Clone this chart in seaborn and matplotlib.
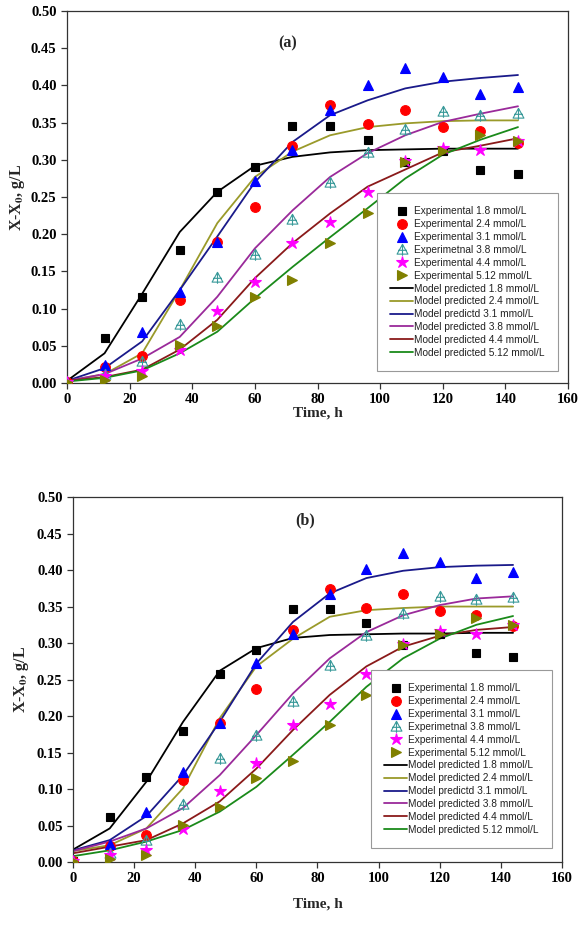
import numpy as np
import matplotlib
matplotlib.use('Agg')
import matplotlib.pyplot as plt
from matplotlib.path import Path
import seaborn as sns

# ── Data ──────────────────────────────────────
TIME = [0, 12, 24, 36, 48, 60, 72, 84, 96, 108, 120, 132, 144]

EXP_18 = [0.002, 0.061, 0.116, 0.179, 0.257, 0.291, 0.346, 0.346, 0.327, 0.297, 0.312, 0.286, 0.281]
EXP_24 = [0.002, 0.022, 0.037, 0.112, 0.190, 0.237, 0.318, 0.374, 0.348, 0.367, 0.344, 0.339, 0.323]
EXP_31 = [0.002, 0.024, 0.068, 0.123, 0.190, 0.272, 0.313, 0.367, 0.401, 0.424, 0.411, 0.389, 0.398]
EXP_38 = [0.002, 0.012, 0.030, 0.079, 0.142, 0.174, 0.221, 0.270, 0.311, 0.341, 0.365, 0.360, 0.363]
EXP_44 = [0.002, 0.009, 0.016, 0.045, 0.097, 0.136, 0.188, 0.216, 0.257, 0.299, 0.316, 0.313, 0.325]
EXP_512 = [0.002, 0.004, 0.009, 0.051, 0.076, 0.115, 0.139, 0.188, 0.229, 0.297, 0.312, 0.334, 0.325]

# panel (a) model
M18_A = [0.003, 0.040, 0.120, 0.203, 0.257, 0.292, 0.304, 0.310, 0.313, 0.314, 0.315, 0.315, 0.315]
M24_A = [0.003, 0.012, 0.040, 0.125, 0.215, 0.277, 0.311, 0.333, 0.344, 0.349, 0.352, 0.353, 0.353]
M31_A = [0.003, 0.020, 0.056, 0.125, 0.197, 0.270, 0.324, 0.360, 0.380, 0.396, 0.405, 0.410, 0.414]
M38_A = [0.003, 0.012, 0.033, 0.062, 0.116, 0.181, 0.232, 0.277, 0.309, 0.333, 0.351, 0.362, 0.372]
M44_A = [0.003, 0.008, 0.018, 0.045, 0.085, 0.141, 0.188, 0.228, 0.264, 0.287, 0.310, 0.319, 0.329]
M512_A = [0.002, 0.007, 0.017, 0.040, 0.069, 0.114, 0.156, 0.196, 0.235, 0.275, 0.307, 0.327, 0.344]

# panel (b) model
M18_B = [0.017, 0.046, 0.110, 0.192, 0.262, 0.293, 0.307, 0.311, 0.312, 0.313, 0.313, 0.314, 0.314]
M24_B = [0.015, 0.023, 0.046, 0.101, 0.197, 0.268, 0.306, 0.336, 0.345, 0.348, 0.350, 0.350, 0.350]
M31_B = [0.016, 0.030, 0.063, 0.119, 0.192, 0.272, 0.329, 0.368, 0.389, 0.399, 0.404, 0.406, 0.407]
M38_B = [0.015, 0.028, 0.046, 0.074, 0.119, 0.174, 0.231, 0.279, 0.315, 0.338, 0.352, 0.361, 0.364]
M44_B = [0.012, 0.021, 0.030, 0.053, 0.083, 0.128, 0.181, 0.229, 0.268, 0.295, 0.310, 0.318, 0.322]
M512_B = [0.008, 0.016, 0.028, 0.044, 0.069, 0.103, 0.147, 0.192, 0.240, 0.279, 0.306, 0.325, 0.337]

EXP_LABELS = ['Experimental 1.8 mmol/L', 'Experimental 2.4 mmol/L',
              'Experimental 3.1 mmol/L', 'Experimetnal 3.8 mmol/L',
              'Experimental 4.4 mmol/L', 'Experimental 5.12 mmol/L']
MOD_LABELS = ['Model predicted 1.8 mmol/L', 'Model predicted 2.4 mmol/L',
              'Model predictd 3.1 mmol/L', 'Model predicted 3.8 mmol/L',
              'Model predicted 4.4 mmol/L', 'Model predicted 5.12 mmol/L']

# ── Styles ────────────────────────────────────
# open triangle with a cross inside (the 3.8 mmol/L marker)
tri_plus = Path(
    [(-1, -0.85), (1, -0.85), (0, 0.95), (-1, -0.85),
     (0, -1.15), (0, 0.95), (-0.8, -0.15), (0.8, -0.15)],
    [Path.MOVETO, Path.LINETO, Path.LINETO, Path.CLOSEPOLY,
     Path.MOVETO, Path.LINETO, Path.MOVETO, Path.LINETO])

EXP_STYLE = [
    dict(marker='s', color='#000000', ms=6.0, filled=True),
    dict(marker='o', color='#ff0000', ms=7.0, filled=True),
    dict(marker='^', color='#0000ff', ms=7.5, filled=True),
    dict(marker=tri_plus, color='#3a9a9a', ms=9.0, filled=False),
    dict(marker='*', color='#ff00ff', ms=9.0, filled=True),
    dict(marker='>', color='#808000', ms=7.5, filled=True),
]
MOD_COLORS = ['#000000', '#9a9a2a', '#1a1a8a', '#9a2a9a', '#8a1a1a', '#1a8a1a']

sns.set_style('ticks')
plt.rcParams['font.family'] = ['Liberation Serif', 'DejaVu Serif']
plt.rcParams['mathtext.fontset'] = 'stix'


def draw_panel(ax, models, tag, tag_xy, leg_anchor, xpad, ypad):
    exps = [EXP_18, EXP_24, EXP_31, EXP_38, EXP_44, EXP_512]
    for vals, st, lab in zip(exps, EXP_STYLE, EXP_LABELS):
        sns.lineplot(x=TIME, y=vals, ax=ax, linestyle='none',
                     marker=st['marker'], markersize=st['ms'],
                     color=st['color'],
                     markerfacecolor=st['color'] if st['filled'] else 'none',
                     markeredgecolor=st['color'],
                     markeredgewidth=0.8, label=lab, zorder=3)
    for vals, col, lab in zip(models, MOD_COLORS, MOD_LABELS):
        sns.lineplot(x=TIME, y=vals, ax=ax, color=col, linewidth=1.3,
                     label=lab, zorder=2)

    ax.set_xlim(0, 160)
    ax.set_ylim(0, 0.5)
    ax.set_xticks(np.arange(0, 161, 20))
    ax.set_yticks(np.arange(0, 0.501, 0.05))
    ax.set_yticklabels([f'{v:.2f}' for v in np.arange(0, 0.501, 0.05)])
    ax.tick_params(direction='out', length=4, width=0.9, colors='#333333',
                   labelcolor='black', labelsize=10.5)
    for lab in ax.get_xticklabels() + ax.get_yticklabels():
        lab.set_fontweight('bold')
    for sp in ax.spines.values():
        sp.set_visible(True)
        sp.set_color('#333333')
        sp.set_linewidth(0.9)

    ax.set_xlabel('Time, h', fontsize=11, fontweight='bold', labelpad=xpad)
    ax.set_ylabel(r'X-X$_{\mathbf{0}}$, g/L', fontsize=11.5,
                  fontweight='bold', labelpad=ypad)
    ax.text(tag_xy[0], tag_xy[1], tag, ha='center', va='center',
            fontsize=11.5, fontweight='bold')

    leg = ax.legend(loc='lower right', bbox_to_anchor=leg_anchor,
                    prop={'family': 'Liberation Sans', 'size': 7.3},
                    labelspacing=0.28, handlelength=2.3, handletextpad=0.1,
                    borderpad=1.3, numpoints=1, fancybox=False,
                    frameon=True, framealpha=1, edgecolor='#999999')
    leg.get_frame().set_linewidth(0.8)
    for t in leg.get_texts():
        t.set_color('#222222')


fig = plt.figure(figsize=(5.8, 9.27), dpi=100)
fig.patch.set_facecolor('white')
ax_a = fig.add_axes([0.1155, 0.5868, 0.864, 0.4013])
ax_b = fig.add_axes([0.1259, 0.0701, 0.843, 0.3937])

draw_panel(ax_a, [M18_A, M24_A, M31_A, M38_A, M44_A, M512_A],
           '(a)', (70.5, 0.457), (0.99, 0.019), xpad=0, ypad=3)
draw_panel(ax_b, [M18_B, M24_B, M31_B, M38_B, M44_B, M512_B],
           '(b)', (76, 0.468), (0.99, 0.025), xpad=9, ypad=4)

plt.savefig('out.png', dpi=100, facecolor='white')
plt.close()
